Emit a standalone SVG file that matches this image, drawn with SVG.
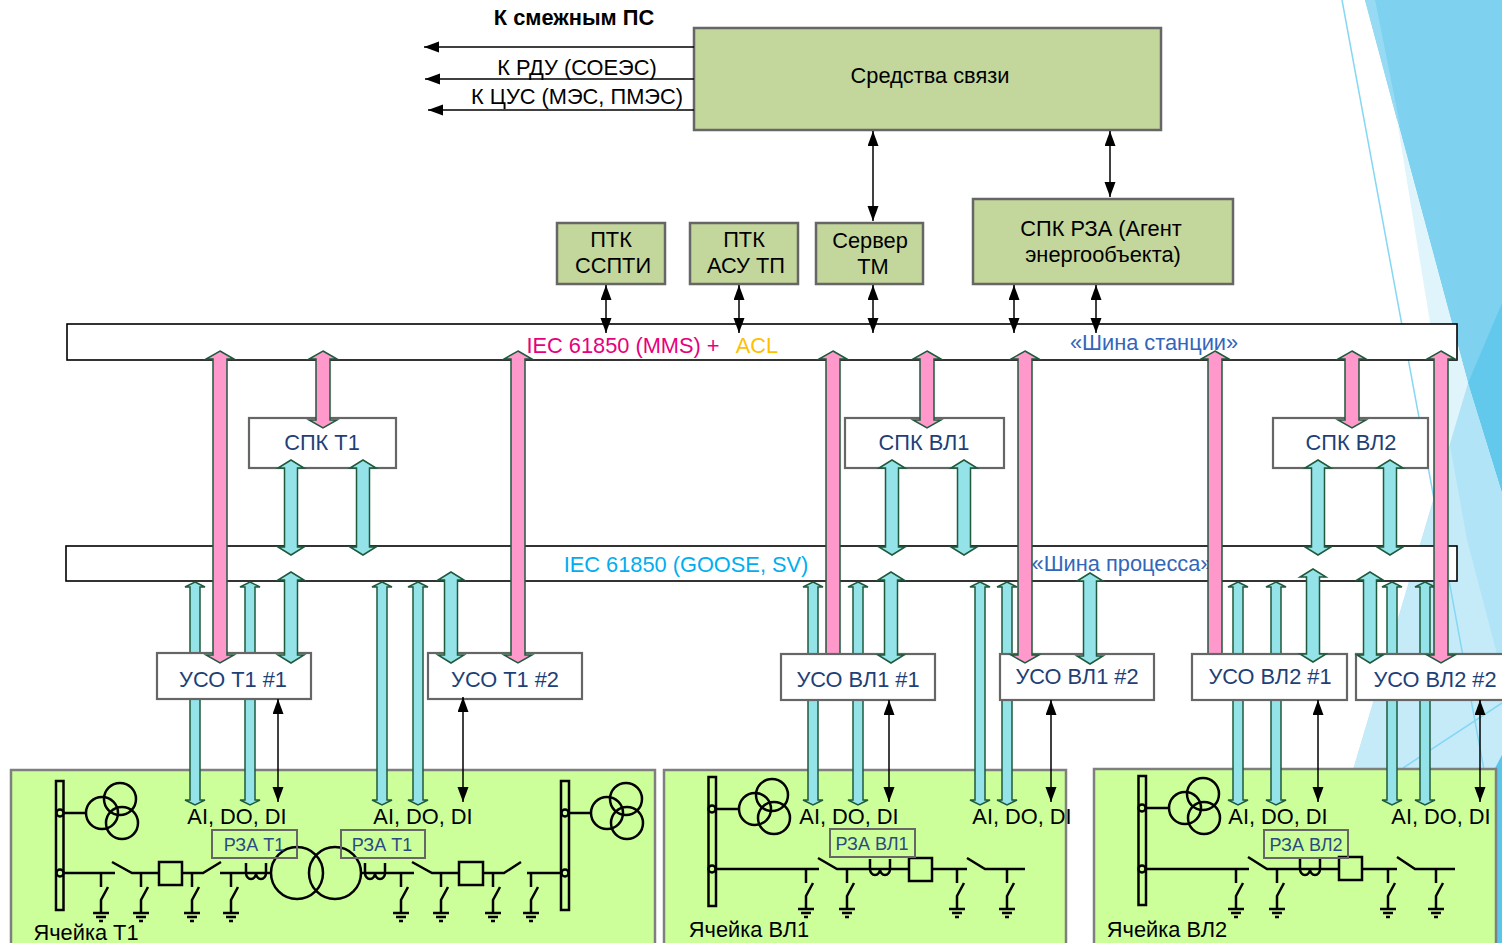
<svg xmlns="http://www.w3.org/2000/svg" width="1502" height="943" viewBox="0 0 1502 943">
<style>
text{font-family:"Liberation Sans",Arial,sans-serif;text-anchor:middle;font-size:21.800px;fill:#000}
.top{fill:#c3d69b;stroke:#666;stroke-width:2.5}
.bus{fill:#fff;stroke:#000;stroke-width:1.6}
.ied{fill:#fff;stroke:#666;stroke-width:2.2}
.ied-t{fill:#1f3f77}
.cell{fill:#ccff99;stroke:#7f7f7f;stroke-width:2.5}
.rza{fill:none;stroke:#666;stroke-width:2}
.rza-t{fill:#2a4a80;font-size:18px}
.sch{fill:none;stroke:#000;stroke-width:2.5}
.bar{fill:#ccff99;stroke:#000;stroke-width:2.5}
.pk{fill:#ff99cc;stroke:#1f5a3c;stroke-width:1.5}
.cy{fill:#93e3e9;stroke:#1f5a3c;stroke-width:1.5}
.ln{fill:none;stroke:#000;stroke-width:1.5;marker-end:url(#ah)}
.ln2{fill:none;stroke:#000;stroke-width:1.5;marker-start:url(#ah);marker-end:url(#ah)}
</style>
<defs>
<marker id="ah" markerUnits="userSpaceOnUse" markerWidth="16" markerHeight="12" refX="15" refY="5.500" orient="auto-start-reverse"><path d="M0,0L15,5.500L0,11z" fill="#000"/></marker>
<g id="gnd" class="sch"><path d="M0,0V14M7,14L0,27V40M-8,40H8M-5,44H5M-2,48H2"/></g>
<g id="coil" class="sch"><path d="M0,-10V0A5,6 0 0 0 10,0A5,6 0 0 0 20,0V-10"/></g>
</defs>

<g id="background">
<polygon points="1365,0 1502,0 1502,493 1468,383" fill="#7ed2f0"/>
<polygon points="1365,0 1375,0 1400,125 1397,120" fill="#96dbf3"/>
<polygon points="1397,120 1468,383 1450,445" fill="#e0f4fb"/>
<polygon points="1502,303 1468,383 1502,493" fill="#62c9ec"/>
<polygon points="1468,383 1502,493 1502,943 1353,943 1353,770" fill="#b0e4f6"/>
<polygon points="1450,445 1467,540 1502,673 1502,943 1353,943 1353,770" fill="#c5ebf9"/>
<polygon points="1502,755 1494,770 1494,943 1502,943" fill="#5cc5ea"/>
<path d="M1342,0L1484,770M1403,768L1502,703" fill="none" stroke="#85d7f3" stroke-width="1.500"/>
</g>

<g id="cell-t1">
<rect class="cell" x="11" y="770" width="644" height="180"/>
<g class="sch">
<path d="M60,813H86M60,873H115M112,862L132,873H159M182,873H203L221,862M220,873H272M361,873H414M412,862L432,873H459M483,873H504L521,862M527,873H565M565,813H592"/>
<circle cx="102" cy="813" r="16"/><circle cx="120" cy="799" r="16"/><circle cx="122" cy="823" r="16"/>
<circle cx="607" cy="813" r="16"/><circle cx="626" cy="799" r="16"/><circle cx="627" cy="823" r="16"/>
<rect x="159" y="862" width="23" height="23"/><rect x="459" y="862" width="24" height="23"/>
<circle cx="297" cy="873" r="26"/><circle cx="335" cy="873" r="26"/>
</g>
<rect class="bar" x="56" y="781" width="7.500" height="129"/><rect class="bar" x="561" y="781" width="8" height="129"/>
<circle class="bar" cx="60" cy="813" r="3.500"/><circle class="bar" cx="60" cy="873" r="3.500"/><circle class="bar" cx="565" cy="813" r="3.500"/><circle class="bar" cx="565" cy="873" r="3.500"/>
<use href="#coil" x="246" y="873"/><use href="#coil" x="365" y="873"/>
<use href="#gnd" x="101" y="873"/><use href="#gnd" x="141" y="873"/><use href="#gnd" x="192" y="873"/><use href="#gnd" x="231" y="873"/>
<use href="#gnd" x="401" y="873"/><use href="#gnd" x="441" y="873"/><use href="#gnd" x="493" y="873"/><use href="#gnd" x="531" y="873"/>
<text x="237" y="824">AI, DO, DI</text><text x="423" y="824">AI, DO, DI</text>
<rect class="rza" x="212" y="830" width="85" height="28"/><text class="rza-t" x="254" y="851">РЗА Т1</text>
<rect class="rza" x="341" y="830" width="84" height="28"/><text class="rza-t" x="382" y="851">РЗА Т1</text>
<text x="86" y="940">Ячейка Т1</text>
</g>

<g id="cell-vl1">
<rect class="cell" x="664" y="770" width="402" height="180"/>
<g class="sch">
<path d="M712,809H739M712,869H819M818,858L837,869H909M932,869H967M967,858L985,869H1025"/>
<circle cx="755" cy="809" r="16"/><circle cx="772" cy="795" r="16"/><circle cx="774" cy="818" r="16"/>
<rect x="909" y="858" width="23" height="23"/>
</g>
<rect class="bar" x="708.500" y="777" width="7.500" height="129"/>
<circle class="bar" cx="712" cy="809" r="3.500"/><circle class="bar" cx="712" cy="869" r="3.500"/>
<use href="#coil" x="870" y="869"/>
<use href="#gnd" x="806" y="869"/><use href="#gnd" x="847" y="869"/><use href="#gnd" x="957" y="869"/><use href="#gnd" x="1007" y="869"/>
<text x="849" y="824">AI, DO, DI</text><text x="1022" y="824">AI, DO, DI</text>
<rect class="rza" x="830" y="829" width="85" height="28"/><text class="rza-t" x="872" y="850">РЗА ВЛ1</text>
<text x="749" y="937">Ячейка ВЛ1</text>
</g>

<g id="cell-vl2">
<rect class="cell" x="1094" y="769" width="402" height="181"/>
<g class="sch">
<path d="M1142,808H1169M1142,869H1249M1248,857L1267,869H1339M1362,869H1397M1397,857L1415,869H1455"/>
<circle cx="1185" cy="808" r="16"/><circle cx="1203" cy="794" r="16"/><circle cx="1204" cy="818" r="16"/>
<rect x="1339" y="857" width="23" height="23"/>
</g>
<rect class="bar" x="1138.500" y="776" width="7.500" height="129"/>
<circle class="bar" cx="1142" cy="808" r="3.500"/><circle class="bar" cx="1142" cy="869" r="3.500"/>
<use href="#coil" x="1300" y="869"/>
<use href="#gnd" x="1236" y="869"/><use href="#gnd" x="1277" y="869"/><use href="#gnd" x="1388" y="869"/><use href="#gnd" x="1436" y="869"/>
<text x="1278" y="824">AI, DO, DI</text><text x="1441" y="824">AI, DO, DI</text>
<rect class="rza" x="1264" y="830" width="84" height="28"/><text class="rza-t" x="1306" y="851">РЗА ВЛ2</text>
<text x="1167" y="937">Ячейка ВЛ2</text>
</g>

<g id="bus-station">
<rect class="bus" x="67" y="324" width="1390" height="36"/>
<text x="623" y="353" style="fill:#e6007e">IEC 61850 (MMS) +</text>
<text x="757" y="353" style="fill:#ffc000">ACL</text>
<text x="1154" y="350" style="fill:#3366bb">«Шина станции»</text>
</g>
<g id="bus-process">
<rect class="bus" x="66" y="546" width="1391" height="35"/>
<text x="686" y="572" style="fill:#00aeef">IEC 61850 (GOOSE, SV)</text>
<text x="1122" y="571" style="fill:#3366bb">«Шина процесса»</text>
</g>

<g id="connectors-under">
<g class="cy">
<path d="M195,582l10,5h-5V800h5l-10,5l-10,-5h5V587h-5z"/>
<path d="M250,582l10,5h-5V800h5l-10,5l-10,-5h5V587h-5z"/>
<path d="M382,582l10,5h-5V800h5l-10,5l-10,-5h5V587h-5z"/>
<path d="M418,582l10,5h-5V800h5l-10,5l-10,-5h5V587h-5z"/>
<path d="M813,582l10,5h-5V800h5l-10,5l-10,-5h5V587h-5z"/>
<path d="M858,582l10,5h-5V800h5l-10,5l-10,-5h5V587h-5z"/>
<path d="M980,582l10,5h-5V800h5l-10,5l-10,-5h5V587h-5z"/>
<path d="M1007,582l10,5h-5V800h5l-10,5l-10,-5h5V587h-5z"/>
<path d="M1238,582l10,5h-5V800h5l-10,5l-10,-5h5V587h-5z"/>
<path d="M1276,582l10,5h-5V800h5l-10,5l-10,-5h5V587h-5z"/>
<path d="M1392,582l10,5h-5V800h5l-10,5l-10,-5h5V587h-5z"/>
<path d="M1425,582l10,5h-5V800h5l-10,5l-10,-5h5V587h-5z"/>
</g>
<g class="pk">
<path d="M833,351l14,8h-7V655h7l-14,8l-14,-8h7V359h-7z"/>
<path d="M1215,351l14,8h-7V655h7l-14,8l-14,-8h7V359h-7z"/>
</g>
</g>

<g id="node-svyaz"><rect class="top" x="694" y="28" width="467" height="102"/><text x="930" y="83">Средства связи</text></g>
<g id="node-ptk-ssti"><rect class="top" x="557" y="223" width="108" height="61"/><text x="611" y="247">ПТК</text><text x="613" y="273">ССПТИ</text></g>
<g id="node-ptk-asu"><rect class="top" x="690" y="223" width="108" height="61"/><text x="744" y="247">ПТК</text><text x="746" y="273">АСУ ТП</text></g>
<g id="node-server"><rect class="top" x="816" y="223" width="107" height="61"/><text x="870" y="248">Сервер</text><text x="873" y="274">ТМ</text></g>
<g id="node-spk-rza"><rect class="top" x="973" y="199" width="260" height="85"/><text x="1101" y="236">СПК РЗА (Агент</text><text x="1103" y="262">энергообъекта)</text></g>
<g id="node-spk-t1"><rect class="ied" x="249" y="418" width="147" height="50"/><text class="ied-t" x="322" y="450">СПК Т1</text></g>
<g id="node-spk-vl1"><rect class="ied" x="845" y="418" width="159" height="50"/><text class="ied-t" x="924" y="450">СПК ВЛ1</text></g>
<g id="node-spk-vl2"><rect class="ied" x="1273" y="418" width="155" height="50"/><text class="ied-t" x="1351" y="450">СПК ВЛ2</text></g>
<g id="node-uso-t1-1"><rect class="ied" x="157" y="653" width="154" height="46"/><text class="ied-t" x="233" y="687">УСО Т1 #1</text></g>
<g id="node-uso-t1-2"><rect class="ied" x="428" y="653" width="154" height="46"/><text class="ied-t" x="505" y="687">УСО Т1 #2</text></g>
<g id="node-uso-vl1-1"><rect class="ied" x="781" y="654" width="154" height="46"/><text class="ied-t" x="858" y="687">УСО ВЛ1 #1</text></g>
<g id="node-uso-vl1-2"><rect class="ied" x="1000" y="654" width="154" height="46"/><text class="ied-t" x="1077" y="684">УСО ВЛ1 #2</text></g>
<g id="node-uso-vl2-1"><rect class="ied" x="1192" y="654" width="155" height="46"/><text class="ied-t" x="1270" y="684">УСО ВЛ2 #1</text></g>
<g id="node-uso-vl2-2"><rect class="ied" x="1356" y="654" width="160" height="46"/><text class="ied-t" x="1435" y="687">УСО ВЛ2 #2</text></g>

<g id="labels-top">
<text x="574" y="25" style="font-weight:bold;font-size:21.800px">К смежным ПС</text>
<text x="577" y="75">К РДУ (СОЕЭС)</text>
<text x="577" y="104">К ЦУС (МЭС, ПМЭС)</text>
</g>

<g id="connectors-over">
<g class="cy">
<path d="M291,460l13,8h-6.500V547h6.500l-13,8l-13,-8h6.500V468h-6.500z"/>
<path d="M363,460l13,8h-6.500V547h6.500l-13,8l-13,-8h6.500V468h-6.500z"/>
<path d="M892,460l13,8h-6.500V547h6.500l-13,8l-13,-8h6.500V468h-6.500z"/>
<path d="M964,460l13,8h-6.500V547h6.500l-13,8l-13,-8h6.500V468h-6.500z"/>
<path d="M1318,460l13,8h-6.500V547h6.500l-13,8l-13,-8h6.500V468h-6.500z"/>
<path d="M1390,460l13,8h-6.500V547h6.500l-13,8l-13,-8h6.500V468h-6.500z"/>
<path d="M291,572l13,8h-6.500V655h6.500l-13,8l-13,-8h6.500V580h-6.500z"/>
<path d="M451,572l13,8h-6.500V655h6.500l-13,8l-13,-8h6.500V580h-6.500z"/>
<path d="M891,572l13,8h-6.500V655h6.500l-13,8l-13,-8h6.500V580h-6.500z"/>
<path d="M1090,573l13,8h-6.500V656h6.500l-13,8l-13,-8h6.500V581h-6.500z"/>
<path d="M1313,569l13,8h-6.500V654h6.500l-13,8l-13,-8h6.500V577h-6.500z"/>
<path d="M1370,572l13,8h-6.500V655h6.500l-13,8l-13,-8h6.500V580h-6.500z"/>
</g>
<g class="pk">
<path d="M220,351l14,8h-7V655h7l-14,8l-14,-8h7V359h-7z"/>
<path d="M323,351l14,8h-7V420h7l-14,8l-14,-8h7V359h-7z"/>
<path d="M518,351l14,8h-7V655h7l-14,8l-14,-8h7V359h-7z"/>
<path d="M927,351l14,8h-7V420h7l-14,8l-14,-8h7V359h-7z"/>
<path d="M1025,351l14,8h-7V655h7l-14,8l-14,-8h7V359h-7z"/>
<path d="M1352,351l14,8h-7V420h7l-14,8l-14,-8h7V359h-7z"/>
<path d="M1441,351l14,8h-7V655h7l-14,8l-14,-8h7V359h-7z"/>
</g>
<path class="ln" d="M694,47H424"/>
<path class="ln" d="M694,79H425"/>
<path class="ln" d="M694,110H428"/>
<path class="ln2" d="M873,131V221"/>
<path class="ln2" d="M1110,131V197"/>
<path class="ln2" d="M606,285V333"/>
<path class="ln2" d="M739,285V333"/>
<path class="ln2" d="M873,285V333"/>
<path class="ln2" d="M1014,285V333"/>
<path class="ln2" d="M1096,285V333"/>
<path class="ln2" d="M278,699V802"/>
<path class="ln2" d="M463,697V802"/>
<path class="ln2" d="M889,700V802"/>
<path class="ln2" d="M1051,700V802"/>
<path class="ln2" d="M1318,700V802"/>
<path class="ln2" d="M1480,700V802"/>
</g>
</svg>
